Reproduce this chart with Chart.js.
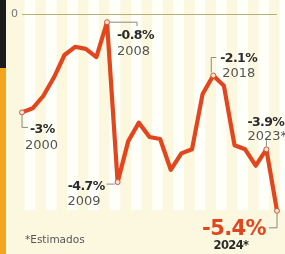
<!DOCTYPE html>
<html>
<head>
<meta charset="utf-8">
<script src="https://cdn.jsdelivr.net/npm/chart.js@4/dist/chart.umd.min.js"></script>
<style>
  html, body { margin: 0; padding: 0; background: #fbf8df; }
  #wrap { width: 285px; height: 254px; }
</style>
</head>
<body>
<div id="wrap"><canvas id="deficit-chart" width="285" height="254"></canvas></div>
<script>
// Datos (% del PIB), 2023 y 2024 estimados
const years = ['2000', '2001', '2002', '2003', '2004', '2005', '2006', '2007', '2008', '2009',
  '2010', '2011', '2012', '2013', '2014', '2015', '2016', '2017', '2018', '2019',
  '2020', '2021', '2022', '2023', '2024'];
const deficit = [-3.0, -2.9, -2.6, -2.15, -1.6, -1.4, -1.45, -1.65, -0.8, -4.7,
  -3.7, -3.25, -3.6, -3.65, -4.4, -4.0, -3.9, -2.55, -2.1, -2.35,
  -3.8, -3.9, -4.3, -3.9, -5.4];
const yTickLabels = ['0'];
const noteIdx = [0, 8, 9, 18, 23, 24];
const noteValue = ['-3%', '-0.8%', '-4.7%', '-2.1%', '-3.9%', '-5.4%'];
const noteYear = ['2000', '2008', '2009', '2018', '2023*', '2024*'];
const footNote = '*Estimados';

const RED = '#e2461e';

// Fondo crema con franjas blancas y barra lateral
const fondo = {
    id: 'fondo',
    beforeDraw(chart) {
        const ctx = chart.ctx;
        const x = chart.scales.x;
        ctx.save();
        ctx.fillStyle = '#fbf8df';
        ctx.fillRect(0, 0, chart.width, chart.height);
        const step = x.getPixelForValue(1) - x.getPixelForValue(0);
        ctx.fillStyle = '#fffffa';
        for (let i = 0; i < years.length; i += 2) {
            const x0 = x.getPixelForValue(i) + step * 0.25;
            ctx.fillRect(x0, 0, step, 210);
        }
        ctx.fillStyle = '#1b1b1b';
        ctx.fillRect(0, 0, 6, 68);
        ctx.fillStyle = '#f4a41f';
        ctx.fillRect(0, 68, 6, chart.height - 68);
        ctx.restore();
    }
};

// Etiquetas con líneas guía
const etiquetas = {
    id: 'etiquetas',
    afterDatasetsDraw(chart) {
        const ctx = chart.ctx;
        const pts = chart.getDatasetMeta(0).data;
        const pctFont = 'bold 12.5px "DejaVu Sans"';
        const yearFont = '13px "DejaVu Sans"';
        ctx.save();
        ctx.strokeStyle = '#8a8a80';
        ctx.lineWidth = 1;
        ctx.textBaseline = 'middle';

        function guide(points) {
            ctx.beginPath();
            ctx.moveTo(points[0][0], points[0][1]);
            for (let k = 1; k < points.length; k++) ctx.lineTo(points[k][0], points[k][1]);
            ctx.stroke();
        }
        function txt(s, x, y, font, color, align) {
            ctx.font = font;
            ctx.fillStyle = color;
            ctx.textAlign = align || 'left';
            ctx.letterSpacing = font.startsWith('bold') ? '-0.6px' : '0px';
            ctx.fillText(s, x, y);
        }

        noteIdx.forEach((idx, n) => {
            const px = pts[idx].x, py = pts[idx].y;
            const v = noteValue[n], yr = noteYear[n];
            if (n === 0) {
                guide([[px, py + 3], [px, py + 15], [px + 6, py + 15]]);
                txt(v, px + 8, py + 17, pctFont, '#2b2b2b');
                txt(yr, px + 3, py + 33, yearFont, '#555');
            } else if (n === 1) {
                guide([[px + 3, py], [px + 30, py], [px + 30, py + 4]]);
                txt(v, px + 10, py + 14, pctFont, '#2b2b2b');
                txt(yr, px + 10, py + 29, yearFont, '#555');
            } else if (n === 2) {
                guide([[px - 3, py + 2], [px - 11, py + 2]]);
                txt(v, px - 13, py + 5, pctFont, '#2b2b2b', 'right');
                txt(yr, px - 17, py + 20, yearFont, '#555', 'right');
            } else if (n === 3) {
                guide([[px - 2, py - 3], [px - 2, py - 18], [px + 3, py - 18]]);
                txt(v, px + 7, py - 17, pctFont, '#2b2b2b');
                txt(yr, px + 9, py - 2, yearFont, '#555');
            } else if (n === 4) {
                guide([[px, py - 3], [px, py - 9]]);
                txt(v, px - 19, py - 27, pctFont, '#2b2b2b');
                txt(yr, px - 19, py - 13, yearFont, '#555');
            } else {
                guide([[px, py + 3], [px, py + 17], [px - 8, py + 17]]);
                txt(v, px - 11, py + 19, 'bold 21px "DejaVu Sans"', RED, 'right');
                txt(yr, px - 46, py + 35, 'bold 11.5px "DejaVu Sans"', '#2b2b2b', 'center');
            }
        });

        txt(footNote, 25, 240, '10.5px "DejaVu Sans"', '#555');
        ctx.restore();
    }
};

const radios = deficit.map((_, i) => noteIdx.includes(i) ? 2.5 : 0);

new Chart(document.getElementById('deficit-chart'), {
    type: 'line',
    data: {
        labels: years,
        datasets: [{
            data: deficit,
            borderColor: RED,
            borderWidth: 4.2,
            borderJoinStyle: 'round',
            borderCapStyle: 'round',
            tension: 0,
            pointRadius: radios,
            pointBackgroundColor: '#fbe2d4',
            pointBorderColor: '#c95a3c',
            pointBorderWidth: 1
        }]
    },
    options: {
        responsive: false,
        animation: false,
        layout: { padding: { top: 14, right: 8, bottom: 35, left: 0 } },
        plugins: { legend: { display: false }, tooltip: { enabled: false } },
        scales: {
            x: { type: 'category', display: false, offset: false },
            y: {
                min: -5.6,
                max: -0.6,
                afterBuildTicks: s => { s.ticks = [{ value: -0.6 }]; },
                afterFit: s => { s.width = 22; },
                ticks: {
                    callback: (v, i) => yTickLabels[i],
                    padding: 4,
                    color: '#777',
                    font: { family: 'DejaVu Sans', size: 11 }
                },
                grid: { color: '#b9ad78', lineWidth: 1, drawTicks: false },
                border: { display: false }
            }
        }
    },
    plugins: [fondo, etiquetas]
});
</script>
</body>
</html>
